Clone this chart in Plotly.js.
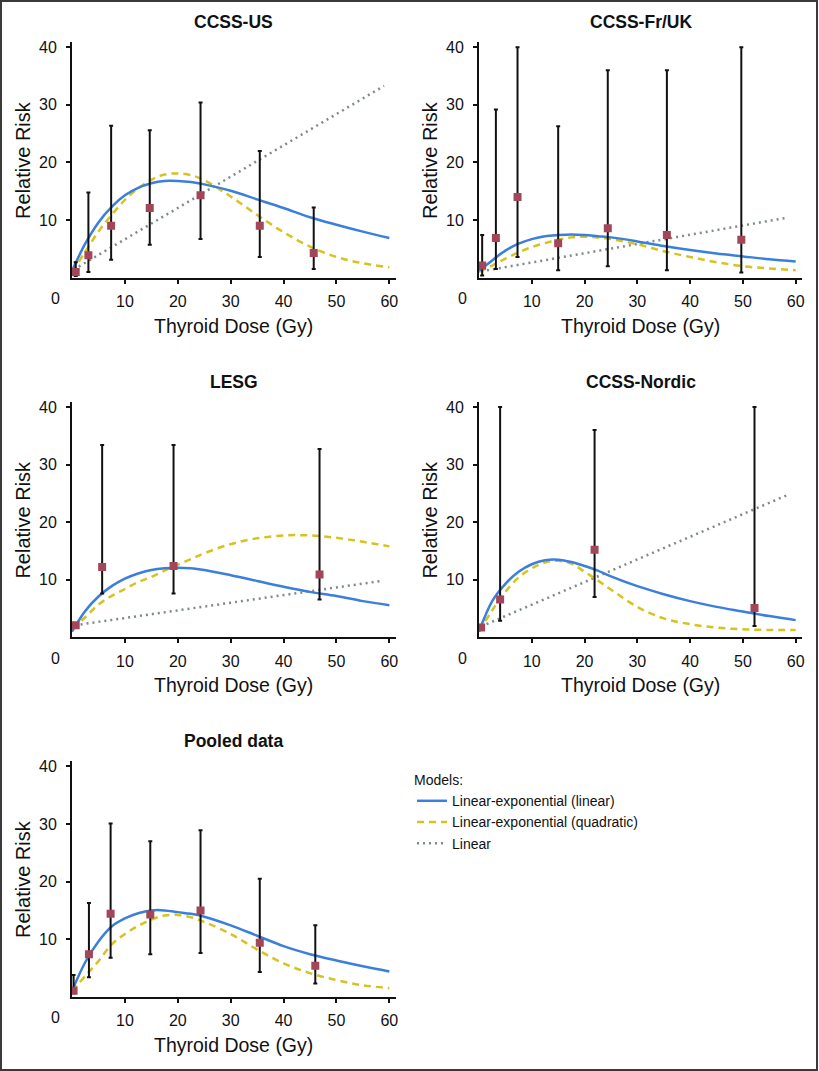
<!DOCTYPE html>
<html>
<head>
<meta charset="utf-8">
<script src="https://cdn.plot.ly/plotly-3.0.1.min.js"></script>
<style>
  html, body { margin: 0; padding: 0; background: #fff; }
  #wrap { position: relative; width: 819px; height: 1071px; }
  #chart { position: absolute; left: 0; top: 0; width: 819px; height: 1071px; }
  #frame { position: absolute; left: 0; top: 0; width: 818px; height: 1071px; box-sizing: border-box;
           border: 2px solid #3a3a3a; pointer-events: none; }
</style>
</head>
<body>
<div id="wrap"><div id="chart"></div><div id="frame"></div></div>
<script>
// ---------- Data ----------
const panelTitles = ["CCSS-US", "CCSS-Fr/UK", "LESG", "CCSS-Nordic", "Pooled data"];
const xTickVals = [10, 20, 30, 40, 50, 60];
const yTickVals = [10, 20, 30, 40];
const modelNames = ["Linear-exponential (linear)", "Linear-exponential (quadratic)", "Linear"];

// Dose grid at which the fitted curves were read
const doseGrid = [0, 2.5, 5, 7.5, 10, 12.5, 15, 17.5, 20, 22.5, 25, 30, 35, 40, 45, 50, 55, 60];

// CCSS-US
const usDose = [0.7, 3.1, 7.4, 14.7, 24.3, 35.5, 45.7];
const usRR   = [1.0, 3.9, 9.0, 12.1, 14.3, 9.0, 4.3];
const usLo   = [0.3, 1.0, 3.1, 5.7, 6.7, 3.6, 1.5];
const usHi   = [2.7, 14.8, 26.4, 25.6, 30.4, 22.0, 12.2];
const usLinExp  = [1.2, 5.9, 9.6, 12.3, 14.3, 15.6, 16.4, 16.8, 16.8, 16.6, 16.2, 15.1, 13.6, 12.1, 10.5, 9.2, 8.0, 6.9];
const usQuadExp = [1.0, 4.5, 8.0, 10.9, 13.5, 15.5, 17.0, 17.9, 18.1, 17.8, 16.9, 14.1, 10.9, 7.9, 5.4, 3.6, 2.5, 1.8];
const usLinDose = [0.3, 59.0];
const usLin     = [1.4, 33.3];

// CCSS-Fr/UK
const frDose = [0.6, 3.2, 7.3, 15.0, 24.4, 35.6, 49.7];
const frRR   = [2.1, 6.9, 14.0, 6.0, 8.6, 7.4, 6.6];
const frLo   = [0.4, 1.5, 3.6, 1.3, 2.0, 1.3, 0.9];
const frHi   = [7.4, 29.2, 40.0, 26.3, 36.0, 36.0, 40.0];
const frLinExp  = [1.2, 3.0, 4.7, 5.9, 6.7, 7.2, 7.4, 7.5, 7.4, 7.2, 7.0, 6.3, 5.5, 4.8, 4.2, 3.7, 3.2, 2.8];
const frQuadExp = [1.0, 2.1, 3.3, 4.4, 5.3, 6.0, 6.6, 7.0, 7.1, 7.0, 6.7, 5.8, 4.6, 3.6, 2.7, 2.0, 1.6, 1.3];
const frLinDose = [0.4, 58.3];
const frLin     = [1.1, 10.4];

// LESG
const leDose = [0.7, 5.7, 19.2, 46.8];
const leRR   = [2.1, 12.2, 12.4, 10.9];
const leLo   = [2.1, 7.6, 7.6, 6.6];
const leHi   = [2.1, 33.4, 33.4, 32.7];
const leLinExp  = [1.0, 4.6, 7.1, 8.9, 10.2, 11.1, 11.7, 12.0, 12.1, 12.0, 11.7, 10.8, 9.8, 8.8, 7.9, 7.2, 6.3, 5.6];
const leQuadExp = [1.5, 3.5, 5.7, 7.2, 8.4, 9.6, 10.5, 11.6, 12.6, 13.6, 14.6, 16.2, 17.2, 17.7, 17.7, 17.3, 16.6, 15.8];
const leLinDose = [0.5, 58.5];
const leLin     = [2.1, 9.8];

// CCSS-Nordic
const noDose = [0.4, 4.0, 21.9, 52.2];
const noRR   = [1.7, 6.6, 15.2, 5.1];
const noLo   = [1.7, 2.9, 7.0, 2.0];
const noHi   = [1.7, 40.0, 36.0, 40.0];
const noLinExp  = [1.0, 6.3, 9.3, 11.4, 12.7, 13.4, 13.5, 13.1, 12.4, 11.6, 10.6, 8.9, 7.5, 6.3, 5.3, 4.5, 3.7, 3.0];
const noQuadExp = [1.0, 4.7, 7.9, 10.4, 12.0, 13.0, 13.3, 12.8, 11.4, 9.9, 8.3, 5.3, 3.3, 2.3, 1.7, 1.4, 1.3, 1.3];
const noLinDose = [0.4, 58.9];
const noLin     = [1.9, 24.9];

// Pooled data
const poDose = [0.3, 3.2, 7.3, 14.8, 24.3, 35.5, 46.0];
const poRR   = [1.05, 7.4, 14.4, 14.3, 15.0, 9.4, 5.4];
const poLo   = [0.6, 3.4, 6.8, 7.4, 7.6, 4.3, 2.3];
const poHi   = [3.8, 16.3, 30.1, 27.0, 28.9, 20.5, 12.4];
const poLinExp  = [1.0, 6.0, 9.6, 12.2, 13.6, 14.5, 15.0, 15.0, 14.7, 14.4, 13.9, 12.4, 10.6, 8.8, 7.4, 6.3, 5.3, 4.4];
const poQuadExp = [1.0, 3.6, 6.2, 9.1, 10.9, 12.3, 13.4, 14.1, 14.2, 13.8, 13.0, 10.9, 8.2, 5.8, 4.1, 2.9, 2.0, 1.5];

// ---------- Assemble ----------
const panels = [
  {dose: usDose, rr: usRR, lo: usLo, hi: usHi, linexp: usLinExp, quadexp: usQuadExp, linDose: usLinDose, lin: usLin},
  {dose: frDose, rr: frRR, lo: frLo, hi: frHi, linexp: frLinExp, quadexp: frQuadExp, linDose: frLinDose, lin: frLin},
  {dose: leDose, rr: leRR, lo: leLo, hi: leHi, linexp: leLinExp, quadexp: leQuadExp, linDose: leLinDose, lin: leLin},
  {dose: noDose, rr: noRR, lo: noLo, hi: noHi, linexp: noLinExp, quadexp: noQuadExp, linDose: noLinDose, lin: noLin},
  {dose: poDose, rr: poRR, lo: poLo, hi: poHi, linexp: poLinExp, quadexp: poQuadExp, linDose: null, lin: null}
];

const W = 819, H = 1071;
const BLUE = "#3b7fdd", YELLOW = "#d6c320", GREY = "#7f8a8a", MARK = "#a4465a";
const FONT = "Liberation Sans, Arial, Helvetica, sans-serif";

// pixel layout of each plotting area: [left, right, top, bottom]
const boxes = [
  [72, 395.7, 42.1, 277.7],
  [479, 802, 42.1, 277.7],
  [72, 395.7, 401.8, 637.4],
  [479, 802, 401.8, 637.4],
  [72, 395.7, 761.2, 996.8]
];

const traces = [];
const layout = {
  width: W, height: H,
  margin: {l: 0, r: 0, t: 0, b: 0},
  paper_bgcolor: "#fff", plot_bgcolor: "rgba(0,0,0,0)",
  font: {family: FONT, color: "#111"},
  showlegend: true,
  legend: {
    x: 412 / W, y: 1 - 767 / H, xanchor: "left", yanchor: "top",
    bgcolor: "rgba(0,0,0,0)",
    font: {family: FONT, size: 14, color: "#111"},
    title: {text: "Models:", font: {family: FONT, size: 14, color: "#111"}},
    tracegroupgap: 0
  },
  annotations: [],
  shapes: []
};

panels.forEach((p, i) => {
  const n = i === 0 ? "" : String(i + 1);
  const xa = "x" + n, ya = "y" + n;
  const [l, r, t, b] = boxes[i];
  layout["xaxis" + n] = {
    domain: [l / W, r / W], range: [0, 61.2], anchor: ya,
    showline: true, linecolor: "#111", linewidth: 2,
    showgrid: false, zeroline: false,
    ticks: "outside", ticklen: 4, tickwidth: 2, tickcolor: "#111",
    tickvals: xTickVals, ticktext: xTickVals.map(String),
    tickfont: {family: FONT, size: 16, color: "#111"}, ticklabelstandoff: 4,
    fixedrange: true
  };
  layout["yaxis" + n] = {
    domain: [1 - b / H, 1 - t / H], range: [0, 40.9], anchor: xa,
    showline: true, linecolor: "#111", linewidth: 2,
    showgrid: false, zeroline: false,
    ticks: "outside", ticklen: 4, tickwidth: 2, tickcolor: "#111",
    tickvals: yTickVals, ticktext: yTickVals.map(String),
    tickfont: {family: FONT, size: 16, color: "#111"}, ticklabelstandoff: 6,
    fixedrange: true
  };
  const first = i === 0;
  if (p.lin) {
    traces.push({x: p.linDose, y: p.lin, xaxis: xa, yaxis: ya, mode: "lines",
      line: {color: GREY, width: 2.5, dash: "2px,4px"},
      name: modelNames[2], legendrank: 3, showlegend: first, hoverinfo: "skip"});
  }
  traces.push({x: doseGrid, y: p.quadexp, xaxis: xa, yaxis: ya, mode: "lines",
    line: {color: YELLOW, width: 2.5, dash: "7px,5px", shape: "spline", smoothing: 1},
    name: modelNames[1], legendrank: 2, showlegend: first, hoverinfo: "skip"});
  traces.push({x: doseGrid, y: p.linexp, xaxis: xa, yaxis: ya, mode: "lines",
    line: {color: BLUE, width: 2.5, shape: "spline", smoothing: 1},
    name: modelNames[0], legendrank: 1, showlegend: first, hoverinfo: "skip"});
  traces.push({x: p.dose, y: p.rr, xaxis: xa, yaxis: ya, mode: "markers",
    marker: {symbol: "square", size: 8, color: MARK},
    error_y: {type: "data", symmetric: false,
      array: p.hi.map((h, k) => h - p.rr[k]),
      arrayminus: p.lo.map((v, k) => p.rr[k] - v),
      color: "#111", thickness: 2, width: 2},
    showlegend: false, hoverinfo: "skip"});

  // panel title
  layout.annotations.push({text: "<b>" + panelTitles[i] + "</b>", xref: xa + " domain", yref: ya + " domain",
    x: 0.5, y: 1, yshift: 20, xanchor: "center", yanchor: "middle", showarrow: false,
    font: {family: FONT, size: 17.5, color: "#111"}});
  // x title
  layout.annotations.push({text: "Thyroid Dose (Gy)", xref: xa + " domain", yref: ya + " domain",
    x: 0.5, y: 0, yshift: -48, xanchor: "center", yanchor: "middle", showarrow: false,
    font: {family: FONT, size: 19.5, color: "#111"}});
  // y title
  layout.annotations.push({text: "Relative Risk", xref: "paper", yref: ya + " domain",
    x: (l - 49) / W, y: 0.5, xanchor: "center", yanchor: "middle", textangle: -90, showarrow: false,
    font: {family: FONT, size: 20, color: "#111"}});
  // origin label
  layout.annotations.push({text: "0", xref: xa, yref: ya + " domain",
    x: 0, y: 0, xshift: -17, yshift: -21, xanchor: "center", yanchor: "middle", showarrow: false,
    font: {family: FONT, size: 16, color: "#111"}});
});

Plotly.newPlot("chart", traces, layout, {staticPlot: true, displayModeBar: false});
</script>
</body>
</html>
